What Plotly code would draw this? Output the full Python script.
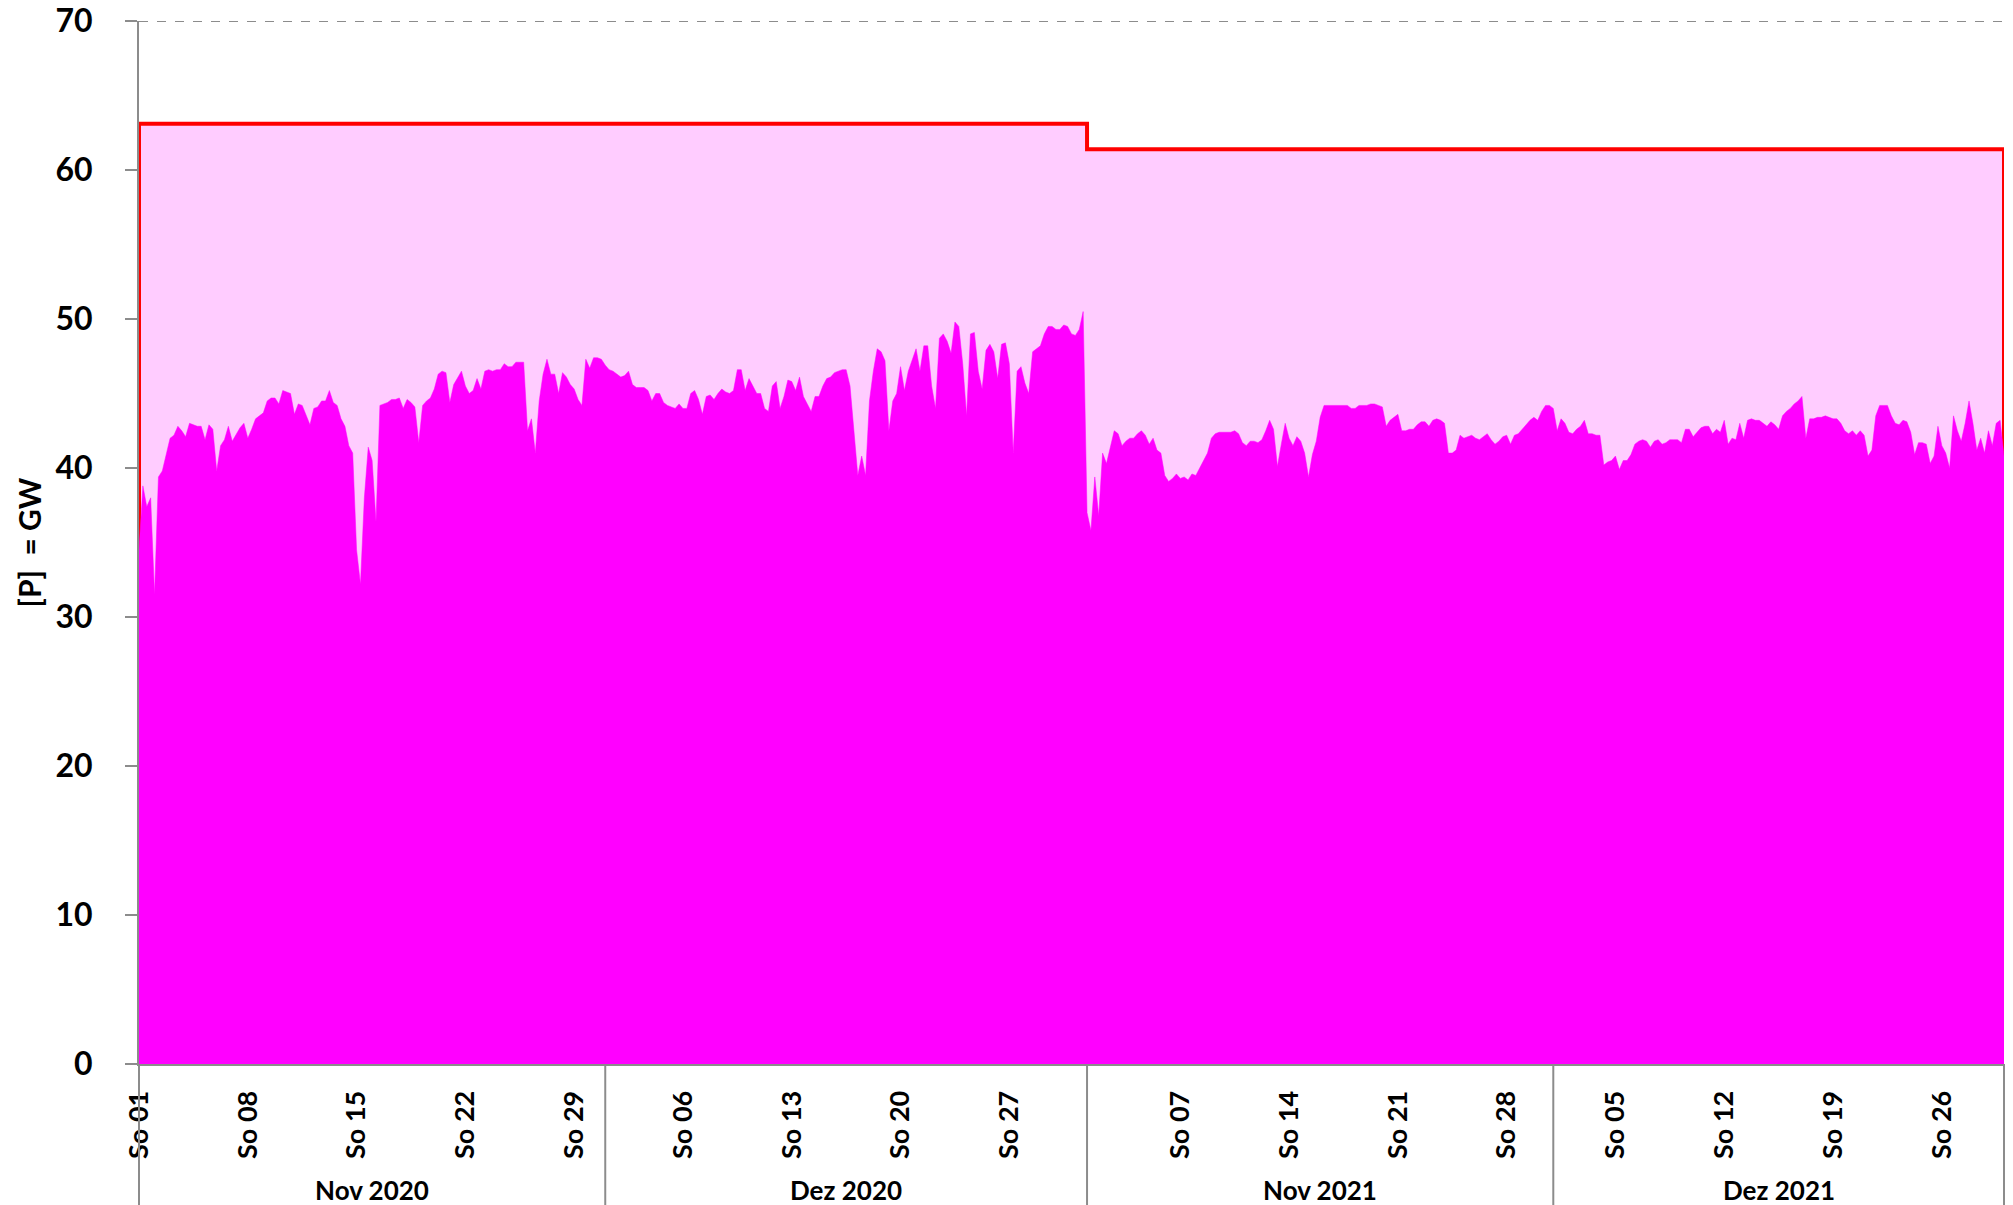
import plotly.graph_objects as go

# ---------------- data ----------------
month_labels = ["Nov 2020", "Dez 2020", "Nov 2021", "Dez 2021"]
month_days = [30, 31, 30, 29]
capacity_gw = [63.1, 63.1, 61.4, 61.4]
sunday_days = [[1, 8, 15, 22, 29], [6, 13, 20, 27], [7, 14, 21, 28], [5, 12, 19, 26]]
samples_per_day = 4
y_max = 70

load_nov_2020 = [
    34.5, 38.8, 37.4, 38.0, 31.5, 39.4, 39.8, 41.0, 42.0, 42.2, 42.8, 42.5,
    42.1, 43.0, 42.9, 42.8, 42.8, 41.9, 42.9, 42.6, 39.8, 41.5, 41.9, 42.8,
    41.8, 42.3, 42.7, 43.0, 42.0, 42.6, 43.3, 43.5, 43.7, 44.5, 44.7, 44.7,
    44.3, 45.2, 45.1, 45.0, 43.6, 44.3, 44.2, 43.5, 42.9, 44.0, 44.1, 44.5,
    44.5, 45.2, 44.4, 44.2, 43.3, 42.8, 41.5, 41.0, 34.5, 32.2, 38.0, 41.4,
    40.5, 36.4, 44.2, 44.3, 44.4, 44.6, 44.6, 44.7, 44.0, 44.6, 44.4, 44.1,
    41.7, 44.2, 44.5, 44.7, 45.3, 46.3, 46.5, 46.4, 44.4, 45.6, 46.1, 46.5,
    45.5, 45.0, 45.2, 46.0, 45.3, 46.5, 46.6, 46.5, 46.6, 46.6, 47.0, 46.8,
    46.8, 47.1, 47.1, 47.1, 42.5, 43.3, 41.0, 44.5, 46.3, 47.3, 46.3, 46.3,
    45.0, 46.4, 46.1, 45.6, 45.3, 44.6, 44.2, 47.3, 46.7, 47.4, 47.4, 47.3,
]
load_dez_2020 = [
    46.9, 46.6, 46.5, 46.3, 46.1, 46.2, 46.5, 45.6, 45.4, 45.4, 45.4, 45.2,
    44.5, 45.0, 45.0, 44.4, 44.2, 44.1, 44.0, 44.3, 44.0, 44.0, 45.0, 45.2,
    44.6, 43.6, 44.8, 44.9, 44.6, 45.0, 45.3, 45.1, 45.0, 45.2, 46.6, 46.6,
    45.2, 46.0, 45.5, 45.0, 45.0, 44.0, 43.8, 45.5, 45.8, 44.0, 44.8, 45.9,
    45.8, 45.2, 46.1, 44.8, 44.3, 43.8, 44.8, 44.8, 45.5, 46.0, 46.1, 46.4,
    46.5, 46.6, 46.6, 45.5, 42.5, 39.5, 40.8, 39.5, 44.5, 46.5, 48.0, 47.8,
    47.2, 42.5, 44.5, 45.0, 46.8, 45.2, 46.5, 47.3, 48.0, 46.5, 48.2, 48.2,
    45.5, 44.0, 48.7, 49.0, 48.5, 47.7, 49.8, 49.5, 47.0, 43.5, 49.0, 49.1,
    46.5, 45.3, 47.9, 48.3, 47.8, 46.0, 48.3, 48.4, 47.0, 41.0, 46.5, 46.8,
    45.7, 45.0, 47.8, 48.0, 48.2, 49.0, 49.5, 49.5, 49.3, 49.3, 49.6, 49.5,
    49.0, 48.9, 49.3, 50.5,
]
load_nov_2021 = [
    37.0, 35.8, 39.4, 36.8, 41.0, 40.3, 41.5, 42.5, 42.3, 41.5, 41.8, 42.0,
    42.0, 42.3, 42.5, 42.2, 41.6, 42.0, 41.2, 41.0, 39.5, 39.1, 39.3, 39.6,
    39.3, 39.4, 39.2, 39.6, 39.5, 40.0, 40.5, 41.0, 42.0, 42.3, 42.4, 42.4,
    42.4, 42.4, 42.5, 42.3, 41.7, 41.5, 41.8, 41.8, 41.7, 41.9, 42.5, 43.2,
    42.6, 40.1, 41.6, 43.0, 42.0, 41.5, 42.1, 41.8, 41.0, 39.4, 40.9, 41.8,
    43.4, 44.2, 44.2, 44.2, 44.2, 44.2, 44.2, 44.2, 44.0, 44.0, 44.2, 44.2,
    44.2, 44.3, 44.3, 44.2, 44.1, 42.8, 43.2, 43.4, 43.6, 42.5, 42.5, 42.6,
    42.6, 42.9, 43.1, 43.1, 42.8, 43.2, 43.3, 43.2, 43.0, 41.0, 41.0, 41.2,
    42.2, 42.0, 42.1, 42.2, 42.0, 41.9, 42.1, 42.3, 41.9, 41.6, 41.8, 42.1,
    42.2, 41.6, 42.2, 42.3, 42.6, 42.9, 43.2, 43.4, 43.2, 43.8, 44.2, 44.2,
]
load_dez_2021 = [
    44.0, 42.5, 43.3, 43.0, 42.4, 42.3, 42.6, 42.8, 43.2, 42.3, 42.3, 42.2,
    42.2, 40.2, 40.4, 40.5, 40.8, 39.9, 40.5, 40.5, 40.9, 41.6, 41.8, 41.9,
    41.8, 41.4, 41.8, 41.9, 41.6, 41.7, 41.9, 41.9, 41.9, 41.7, 42.6, 42.6,
    42.1, 42.4, 42.7, 42.8, 42.8, 42.3, 42.6, 42.4, 43.2, 41.6, 42.0, 41.9,
    43.0, 42.0, 43.2, 43.3, 43.2, 43.2, 43.0, 42.8, 43.1, 42.9, 42.6, 43.5,
    43.8, 44.0, 44.3, 44.5, 44.8, 42.0, 43.3, 43.3, 43.4, 43.4, 43.5, 43.4,
    43.3, 43.3, 43.0, 42.5, 42.3, 42.5, 42.2, 42.5, 42.2, 40.8, 41.2, 43.5,
    44.2, 44.2, 44.2, 43.5, 43.0, 42.9, 43.2, 43.1, 42.4, 40.9, 41.7, 41.7,
    41.6, 40.3, 40.8, 42.8, 41.5, 41.0, 40.0, 43.5, 42.5, 41.8, 43.0, 44.5,
    43.0, 41.2, 42.0, 41.0, 42.5, 41.5, 43.0, 43.2, 40.8,
]

# ---------------- derived ----------------
load = load_nov_2020 + load_dez_2020 + load_nov_2021 + load_dez_2021
x_load = [i / samples_per_day for i in range(len(load))]
total_days = sum(month_days)

month_start = []
acc = 0
for n in month_days:
    month_start.append(acc)
    acc += n

cap_x = [0]
cap_y = [0]
for s, n, c in zip(month_start, month_days, capacity_gw):
    cap_x += [s, s + n]
    cap_y += [c, c]
cap_x.append(total_days)
cap_y.append(0)

tickvals, ticktext = [], []
for s, days in zip(month_start, sunday_days):
    for d in days:
        tickvals.append(s + d - 1)
        ticktext.append(f"So {d:02d}")

FONT = "Lato"
GRAY = "#8c8c8c"

fig = go.Figure()
fig.add_trace(go.Scatter(
    x=cap_x, y=cap_y, mode="lines", fill="tozeroy",
    fillcolor="#FFCCFF", line=dict(color="#FF0000", width=4),
    hoverinfo="skip", showlegend=False))
fig.add_trace(go.Scatter(
    x=x_load, y=load, mode="lines", fill="tozeroy",
    fillcolor="#FF00FF", line=dict(color="#FF00FF", width=0.5),
    showlegend=False))

shapes = []
for b in month_start + [total_days]:
    shapes.append(dict(type="line", xref="paper", yref="paper",
                       x0=b / total_days, x1=b / total_days, y0=0, y1=-0.14,
                       line=dict(color=GRAY, width=2)))
# dashed major gridline at the top of the value axis
shapes.append(dict(type="line", xref="paper", yref="y", x0=0, x1=1,
                   y0=y_max, y1=y_max, layer="below",
                   line=dict(color=GRAY, width=2, dash="dash")))

annotations = []
for s, n, lab in zip(month_start, month_days, month_labels):
    annotations.append(dict(
        x=(s + n / 2) / total_days, xref="paper", y=-0.121, yref="paper",
        text=lab, showarrow=False, xanchor="center", yanchor="middle",
        font=dict(family=FONT, size=26, color="black", weight="bold")))
annotations.append(dict(
    x=-0.059, xref="paper", y=0.5, yref="paper", text="[P]  = GW",
    textangle=-90, showarrow=False, xanchor="center", yanchor="middle",
    font=dict(family=FONT, size=30, color="black", weight="bold")))

# page body has an 8px default margin: size/margins compensate for it
fig.update_layout(
    width=2005, height=1197,
    margin=dict(l=131, r=9, t=13, b=141, autoexpand=False),
    plot_bgcolor="white", paper_bgcolor="white",
    shapes=shapes, annotations=annotations,
    xaxis=dict(range=[0, total_days], tickmode="array", tickvals=tickvals,
               ticktext=ticktext, tickangle=-90, ticks="", showgrid=False,
               zeroline=False, showline=True, linecolor=GRAY, linewidth=2,
               ticklabelstandoff=14, automargin=False,
               ticklabeloverflow="allow",
               tickfont=dict(family=FONT, size=27, color="black", weight="bold")),
    yaxis=dict(range=[0, y_max], dtick=10, ticks="outside", ticklen=12,
               tickcolor=GRAY, tickwidth=2, showline=True, linecolor=GRAY,
               linewidth=2, showgrid=False, zeroline=False,
               ticklabelstandoff=26, automargin=False,
               ticklabeloverflow="allow",
               tickfont=dict(family=FONT, size=32, color="black", weight="bold")),
)

fig.write_html("out.html")
